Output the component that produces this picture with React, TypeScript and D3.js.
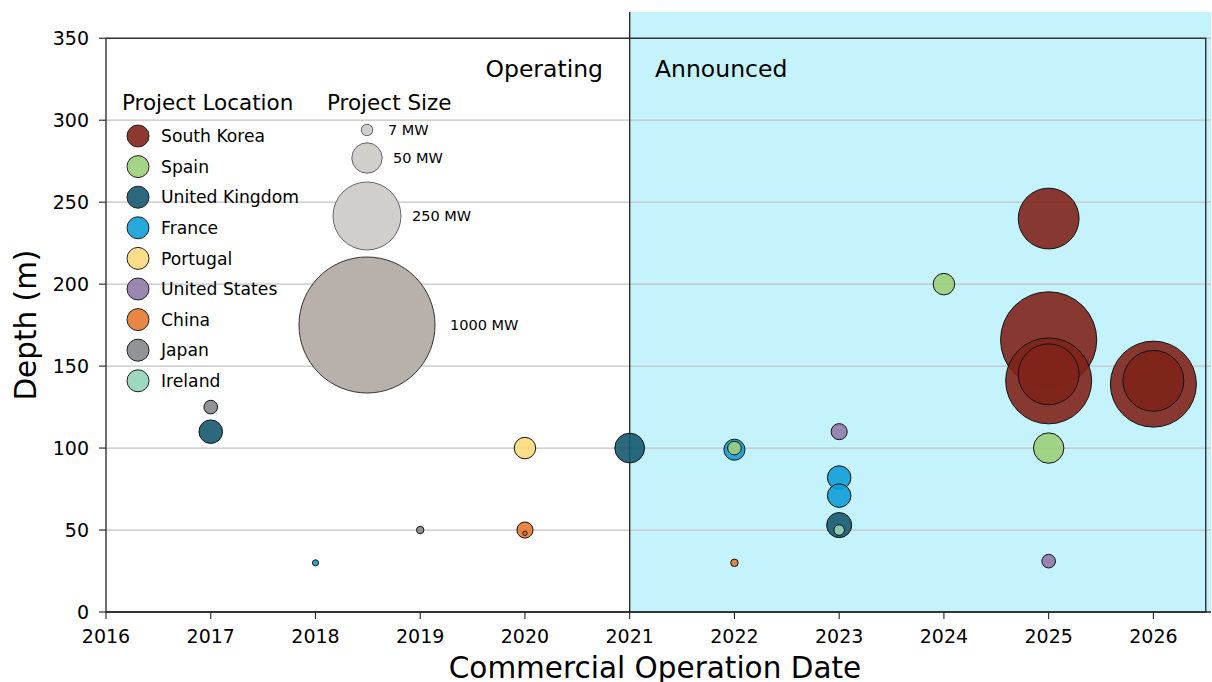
import React from "react";
import * as d3 from "d3";

// Bubble chart: offshore floating wind projects, depth vs. commercial operation date.

const COUNTRIES = [
  "South Korea",
  "Spain",
  "United Kingdom",
  "France",
  "Portugal",
  "United States",
  "China",
  "Japan",
  "Ireland",
];
const COUNTRY_COLORS = [
  "#80231b",
  "#9ccf7a",
  "#16596f",
  "#0e9fd8",
  "#fcd97d",
  "#917aa8",
  "#e57a30",
  "#86878b",
  "#92d4b8",
];

// one entry per project (drawing order matters for overlaps)
const projYear = [
  2017, 2017, 2018, 2019, 2020, 2020, 2020, 2021,
  2022, 2022, 2022, 2023, 2023, 2023, 2023, 2023,
  2024, 2025, 2025, 2025, 2025, 2025, 2025, 2026, 2026,
];
const projDepth = [
  125, 110, 30, 50, 100, 50, 48, 100,
  99, 100, 30, 110, 82, 71, 53, 50,
  200, 240, 166, 141, 145, 100, 31, 139, 141,
];
const projMW = [
  10, 30, 2, 3, 25, 14, 1, 48,
  24, 10, 3, 14, 30, 30, 34, 6,
  25, 200, 500, 400, 200, 50, 10, 400, 200,
];
const projCountry = [
  "Japan", "United Kingdom", "France", "Japan", "Portugal", "China", "China", "United Kingdom",
  "France", "Spain", "China", "United States", "France", "France", "United Kingdom", "Ireland",
  "Spain", "South Korea", "South Korea", "South Korea", "South Korea", "Spain", "United States", "South Korea", "South Korea",
];

const X_TICKS = d3.range(2016, 2027);
const Y_TICKS = [0, 50, 100, 150, 200, 250, 300, 350];
const SIZE_LEGEND = [7, 50, 250, 1000];

const FONT = "DejaVu Sans, sans-serif";
const W = 1212;
const H = 682;

export default function App() {
  const x = d3.scaleLinear().domain([2016, 2026.55]).range([106, 1211]);
  const y = d3.scaleLinear().domain([0, 366]).range([612, 12]);
  const r = d3.scaleSqrt().domain([0, 1000]).range([0, 68]);
  const color = d3.scaleOrdinal<string, string>().domain(COUNTRIES).range(COUNTRY_COLORS);

  const [x0, x1] = x.range();
  const [yb, yt] = y.range();

  // size legend layout
  const sizeCy = [130, 158, 216, 325];
  const sizeLabelX = [388, 393, 412, 450];

  return (
    <svg
      width={W}
      height={H}
      style={{ position: "absolute", left: 0, top: 0, background: "#fff" }}
      fontFamily={FONT}
    >
      {/* Announced span */}
      <rect x={x(2021)} y={yt} width={x1 - x(2021)} height={yb - yt} fill="#c5f3fd" />

      {/* grid */}
      {Y_TICKS.filter((t) => t > 0).map((t) => (
        <line key={t} x1={x0} x2={x1} y1={y(t)} y2={y(t)} stroke="#c2c2c2" strokeWidth={1.3} />
      ))}

      {/* bounding rectangle 2016-2026.5, 0-350 */}
      <rect
        x={x(2016)}
        y={y(350)}
        width={x(2026.5) - x(2016)}
        height={y(0) - y(350)}
        fill="none"
        stroke="#222"
        strokeWidth={1.3}
      />
      <line x1={x(2021)} x2={x(2021)} y1={yt} y2={yb} stroke="#222" strokeWidth={1.3} />

      {/* bottom axis */}
      <line x1={x0} x2={x1} y1={yb} y2={yb} stroke="#222" strokeWidth={1.3} />
      {X_TICKS.map((t) => (
        <g key={t}>
          <line x1={x(t)} x2={x(t)} y1={yb} y2={yb + 7} stroke="#222" strokeWidth={1.1} />
          <text x={x(t)} y={yb + 31} fontSize={19} textAnchor="middle" fill="#000">
            {t}
          </text>
        </g>
      ))}
      {Y_TICKS.map((t) => (
        <g key={t}>
          <line x1={x0 - 7} x2={x0} y1={y(t)} y2={y(t)} stroke="#222" strokeWidth={1.1} />
          <text x={x0 - 17} y={y(t)} dy="0.36em" fontSize={19} textAnchor="end" fill="#000">
            {t}
          </text>
        </g>
      ))}

      <text x={655} y={678} fontSize={29.5} textAnchor="middle" fill="#000">
        Commercial Operation Date
      </text>
      <text
        transform={`translate(36,${(yb + y(350)) / 2}) rotate(-90)`}
        fontSize={29.5}
        textAnchor="middle"
        fill="#000"
      >
        Depth (m)
      </text>

      <text x={603} y={77} fontSize={23.5} textAnchor="end" fill="#000">
        Operating
      </text>
      <text x={655} y={77} fontSize={23.5} fill="#000">
        Announced
      </text>

      {/* projects */}
      {projYear.map((yr, i) => (
        <circle
          key={i}
          cx={x(yr)}
          cy={y(projDepth[i])}
          r={r(projMW[i])}
          fill={color(projCountry[i])}
          fillOpacity={0.9}
          stroke="#111"
          strokeWidth={1}
        />
      ))}

      {/* location legend */}
      <text x={122} y={110} fontSize={21.5} fill="#000">
        Project Location
      </text>
      {COUNTRIES.map((c, i) => (
        <g key={c} transform={`translate(138,${136 + i * 30.6})`}>
          <circle r={11} fill={color(c)} fillOpacity={0.9} stroke="#222" strokeWidth={1} />
          <text x={23} y={0} dy="0.36em" fontSize={17.2} fill="#000">
            {c}
          </text>
        </g>
      ))}

      {/* size legend */}
      <text x={327} y={110} fontSize={21.5} fill="#000">
        Project Size
      </text>
      {SIZE_LEGEND.map((mw, i) => (
        <g key={mw}>
          <circle
            cx={367}
            cy={sizeCy[i]}
            r={r(mw)}
            fill={mw === 1000 ? "#b8b1ab" : "#d1cfcb"}
            stroke={mw === 1000 ? "#333" : "#666"}
            strokeWidth={1}
          />
          <text x={sizeLabelX[i]} y={sizeCy[i]} dy="0.36em" fontSize={14.5} fill="#000">
            {mw} MW
          </text>
        </g>
      ))}
    </svg>
  );
}
